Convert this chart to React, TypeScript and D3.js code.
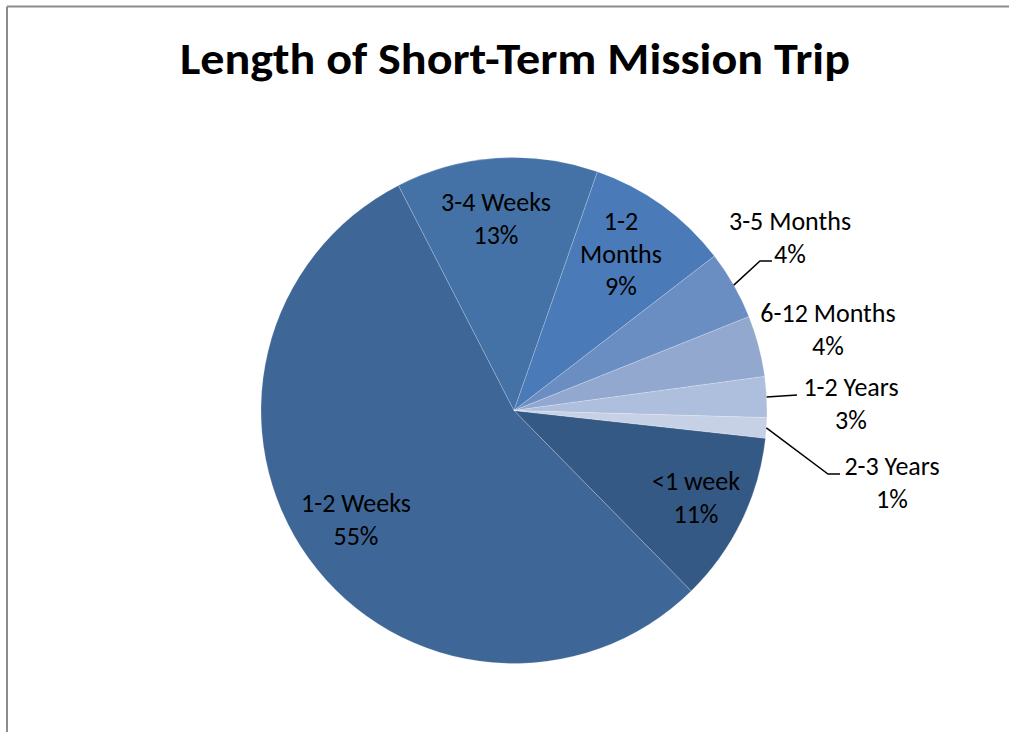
import React from "react";
import * as d3 from "d3";

const categories = ["<1 week", "1-2 Weeks", "3-4 Weeks", "1-2 Months", "3-5 Months", "6-12 Months", "1-2 Years", "2-3 Years"];
const values = [10.9, 54.8, 12.9, 9.2, 4.4, 3.9, 2.6, 1.3];
const labelText = ["11%", "55%", "13%", "9%", "4%", "4%", "3%", "1%"];
const colors = ["#355985", "#3e6697", "#4472a6", "#4a7ab7", "#6b8ec2", "#93a8cf", "#adbfdc", "#c7d1e6"];

// label layout: lines, center x, first baseline
const labelLines: string[][] = [
  ["<1 week", "11%"],
  ["1-2 Weeks", "55%"],
  ["3-4 Weeks", "13%"],
  ["1-2", "Months", "9%"],
  ["3-5 Months", "4%"],
  ["6-12 Months", "4%"],
  ["1-2 Years", "3%"],
  ["2-3 Years", "1%"],
];
const labelPos: [number, number][] = [
  [696, 490],
  [356, 512],
  [496, 211],
  [621, 230],
  [790, 230],
  [828, 322],
  [851, 396],
  [892, 475],
];
// leader lines for outside labels
const leaders: { i: number; elbow: [number, number]; end: [number, number] }[] = [
  { i: 4, elbow: [760, 261], end: [772, 261] },
  { i: 6, elbow: [797, 395], end: [797, 395] },
  { i: 7, elbow: [828, 474], end: [840, 474] },
];

const cx = 514;
const cy = 410.5;
const R = 253;
const startDeg = 96.3;

export default function App() {
  const pie = d3
    .pie<number>()
    .sort(null)
    .startAngle((startDeg * Math.PI) / 180)
    .endAngle((startDeg * Math.PI) / 180 + 2 * Math.PI);
  const arcs = pie(values);
  const arc = d3.arc<d3.PieArcDatum<number>>().innerRadius(0).outerRadius(R);
  const font = "Carlito, Calibri, Lato, sans-serif";
  const lineH = 32.5;

  return (
    <svg width={1009} height={732} style={{ position: "absolute", left: 0, top: 0 }}>
      <rect x={0} y={0} width={1009} height={732} fill="#ffffff" />
      <line x1={7} y1={6.5} x2={1009} y2={6.5} stroke="#8c8c8c" strokeWidth={2} />
      <line x1={7} y1={6.5} x2={7} y2={732} stroke="#8c8c8c" strokeWidth={2} />
      <text
        x={515}
        y={74}
        textAnchor="middle"
        fontFamily={font}
        fontWeight={700}
        fontSize={44}
        fill="#000"
        textLength={670}
        lengthAdjust="spacingAndGlyphs"
      >
        Length of Short-Term Mission Trip
      </text>
      <g transform={`translate(${cx},${cy})`}>
        {arcs.map((a, i) => (
          <path key={categories[i]} d={arc(a) || ""} fill={colors[i]} stroke="#ffffff" strokeOpacity={0.25} strokeWidth={0.8} />
        ))}
      </g>
      {leaders.map((l) => {
        const a = arcs[l.i];
        const mid = (a.startAngle + a.endAngle) / 2;
        const px = cx + R * Math.sin(mid);
        const py = cy - R * Math.cos(mid);
        return (
          <polyline
            key={l.i}
            points={`${px},${py} ${l.elbow[0]},${l.elbow[1]} ${l.end[0]},${l.end[1]}`}
            fill="none"
            stroke="#000"
            strokeWidth={1.5}
          />
        );
      })}
      {labelLines.map((lines, i) => (
        <text key={i} textAnchor="middle" fontFamily={font} fontSize={26} fill="#000">
          {lines.map((t, j) => (
            <tspan key={j} x={labelPos[i][0]} y={labelPos[i][1] + j * lineH}>
              {j === lines.length - 1 ? labelText[i] : t}
            </tspan>
          ))}
        </text>
      ))}
    </svg>
  );
}
